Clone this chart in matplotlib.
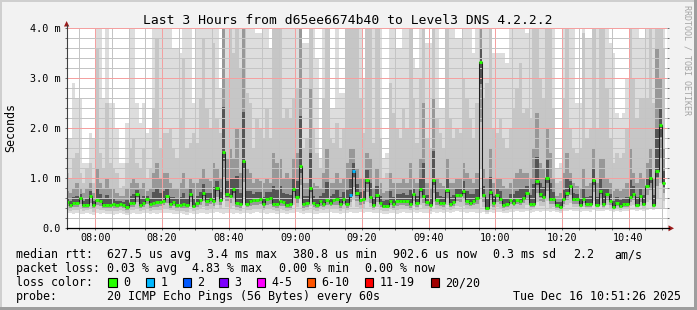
import numpy as np
import matplotlib
matplotlib.use("Agg")
import matplotlib.pyplot as plt
from matplotlib.patches import Rectangle, Polygon
from matplotlib.ticker import MultipleLocator

W, H = 697, 310
MONO = "DejaVu Sans Mono"

# time axis in minutes after 07:00, window 07:51:26 .. 10:51:26
t_start = 51 + 26 / 60
t_end = 231 + 26 / 60
first_col = 51  # first (partial) one-minute column starts 07:51

# median rtt per minute, ms
median = [0.52,
          0.46, 0.51, 0.51, 0.61, 0.46, 0.47, 0.65, 0.46, 0.57, 0.55,
          0.47, 0.47, 0.46, 0.49, 0.46, 0.49, 0.46, 0.42, 0.51, 0.51,
          0.69, 0.47, 0.51, 0.58, 0.49, 0.51, 0.53, 0.53, 0.55, 0.65,
          0.48, 0.53, 0.46, 0.46, 0.49, 0.46, 0.68, 0.45, 0.51, 0.57,
          0.71, 0.55, 0.58, 0.55, 0.81, 0.56, 1.53, 0.68, 0.64, 0.78,
          0.51, 0.49, 1.35, 0.49, 0.55, 0.57, 0.56, 0.59, 0.48, 0.58,
          0.61, 0.49, 0.48, 0.54, 0.53, 0.46, 0.48, 0.79, 0.63, 1.25,
          0.49, 0.51, 0.80, 0.51, 0.46, 0.54, 0.48, 0.56, 0.51, 0.57,
          0.58, 0.48, 0.58, 0.48, 0.66, 1.15, 0.71, 0.56, 0.59, 0.97,
          0.63, 0.47, 0.66, 0.51, 0.45, 0.45, 0.55, 0.48, 0.55, 0.55,
          0.54, 0.54, 0.48, 0.69, 0.51, 0.79, 0.65, 0.53, 0.46, 0.96,
          0.57, 0.51, 0.51, 0.77, 0.48, 0.53, 0.67, 0.66, 0.74, 0.55,
          0.51, 0.55, 0.61, 3.33, 0.66, 0.40, 0.72, 0.51, 0.66, 0.59,
          0.46, 0.49, 0.57, 0.51, 0.56, 0.54, 0.61, 0.71, 0.48, 0.49,
          0.95, 0.68, 0.63, 1.01, 0.58, 0.58, 0.46, 0.42, 0.59, 0.70,
          0.85, 0.58, 0.58, 0.47, 0.59, 0.49, 0.49, 0.96, 0.47, 0.74,
          0.49, 0.69, 0.55, 0.43, 0.51, 0.45, 0.48, 0.48, 0.63, 0.69,
          0.46, 0.64, 0.49, 0.85, 1.00, 0.47, 1.14, 2.06, 0.90]

# lost pings (of 20) per minute
lost = [0] * 85 + [1, 1] + [0] * 93

# fastest ping per minute (bottom of the smoke)
ping_min = [0.30, 0.30, 0.29, 0.31, 0.28, 0.29, 0.30, 0.28, 0.27, 0.30, 0.29,
            0.30, 0.28, 0.29, 0.27, 0.28, 0.30, 0.28, 0.26, 0.29, 0.30,
            0.28, 0.29, 0.30, 0.31, 0.29, 0.30, 0.28, 0.30, 0.31, 0.30,
            0.30, 0.29, 0.28, 0.30, 0.29, 0.27, 0.30, 0.28, 0.29, 0.31,
            0.30, 0.29, 0.31, 0.30, 0.32, 0.30, 0.28, 0.31, 0.30, 0.29,
            0.30, 0.28, 0.30, 0.31, 0.29, 0.30, 0.32, 0.31, 0.30, 0.29,
            0.31, 0.30, 0.29, 0.31, 0.30, 0.28, 0.30, 0.31, 0.32, 0.30,
            0.29, 0.31, 0.30, 0.29, 0.28, 0.30, 0.31, 0.30, 0.32, 0.31,
            0.30, 0.29, 0.31, 0.30, 0.32, 0.31, 0.30, 0.32, 0.31, 0.33,
            0.32, 0.30, 0.31, 0.30, 0.29, 0.28, 0.31, 0.30, 0.29, 0.31,
            0.32, 0.31, 0.30, 0.33, 0.31, 0.32, 0.30, 0.31, 0.29, 0.33,
            0.31, 0.32, 0.30, 0.33, 0.31, 0.32, 0.34, 0.33, 0.32, 0.31,
            0.32, 0.33, 0.31, 0.30, 0.33, 0.28, 0.32, 0.31, 0.33, 0.32,
            0.30, 0.31, 0.33, 0.32, 0.34, 0.33, 0.32, 0.34, 0.31, 0.32,
            0.34, 0.33, 0.35, 0.34, 0.33, 0.34, 0.32, 0.31, 0.34, 0.35,
            0.36, 0.35, 0.34, 0.33, 0.35, 0.34, 0.33, 0.36, 0.34, 0.35,
            0.34, 0.36, 0.35, 0.33, 0.34, 0.33, 0.34, 0.35, 0.36, 0.37,
            0.35, 0.36, 0.35, 0.37, 0.38, 0.36, 0.38, 0.40, 0.39]

# slowest ping (top of light smoke)
top_light = [1.8, 1.8, 2.9, 2.6, 2.6, 1.3, 1.3, 1.9, 1.8, 4.1,
             4.1, 2.6, 4.1, 2.5, 2.5, 2.0, 1.3, 1.3, 2.1, 4.1,
             4.1, 2.5, 2.1, 2.5, 1.9, 2.0, 4.1, 4.1, 4.1, 4.1,
             4.1,
             4.1, 3.6, 3.6, 3.5, 4.1, 4.1, 4.1, 2.5, 4.1, 4.1,
             4.1, 4.1, 4.1, 4.1, 4.1, 2.8, 4.1, 4.1, 4.1, 4.1,
             4.1, 4.1, 4.1, 4.1, 4.1, 4.1, 3.9, 3.9, 4.1, 4.1,
             3.6, 4.1, 4.1, 4.1, 4.1, 4.1, 4.1, 4.1, 4.1, 4.1,
             3.7, 3.7, 4.1, 4.1, 3.4, 1.4, 4.1, 4.1, 2.4, 2.4,
             4.1, 2.7, 2.7, 4.1, 4.1, 4.1, 4.1, 4.1, 3.0, 4.1,
             4.1, 4.1, 3.8, 4.1, 1.4, 1.5, 4.1, 4.1, 3.6, 3.6,
             4.1, 4.1, 4.1, 3.4, 3.2, 4.1, 4.1, 3.7, 3.7, 4.1,
             4.1, 2.4, 2.4, 4.1, 4.1, 4.1, 3.8, 3.8, 4.1, 4.1,
             4.1, 3.5, 4.1, 4.1, 4.1, 4.1, 4.1, 3.5, 3.5, 3.5,
             3.5, 3.3, 4.1, 4.1, 4.1, 4.1, 4.1, 3.9, 4.1, 4.1,
             4.1, 4.1, 4.1, 4.1, 4.1, 4.1, 1.2, 1.3, 4.1, 4.1,
             4.1, 4.1, 2.5, 2.5, 4.1, 3.8, 3.8, 4.1, 4.1, 4.1,
             4.1, 4.1, 3.7, 3.5, 2.3, 2.2, 2.3, 3.0, 4.1, 4.1,
             4.1, 3.8, 3.8, 4.1, 4.1, 4.1, 4.1, 4.1, 4.1]

# top of the mid grey smoke
top_mid = [1.1, 1.0, 1.4, 1.5, 1.1, 0.9, 1.2, 1.3, 0.9, 3.6,
           1.5, 1.2, 2.5, 1.3, 1.2, 1.1, 0.8, 0.85, 1.3, 1.6,
           1.8, 1.3, 1.2, 1.6, 1.0, 1.2, 2.4, 3.8, 1.6, 1.9,
           1.9,
           2.0, 1.6, 1.4, 2.2, 3.4, 1.6, 1.7, 1.9, 1.7, 2.6,
           3.8, 2.4, 2.0, 3.7, 2.2, 1.9, 4.1, 3.0, 4.1, 3.5,
           4.1, 3.2, 4.1, 2.7, 2.5, 1.6, 2.2, 2.0, 1.8, 2.4,
           1.8, 4.1, 4.1, 4.1, 2.2, 2.4, 2.2, 2.6, 2.8, 4.1,
           1.6, 1.8, 4.1, 2.0, 1.5, 1.2, 2.6, 4.1, 1.8, 1.7,
           2.1, 1.6, 2.0, 4.1, 4.1, 4.1, 4.1, 2.6, 1.9, 4.1,
           4.1, 1.7, 4.1, 1.8, 1.0, 1.1, 2.9, 2.3, 2.0, 1.8,
           2.4, 2.0, 4.1, 2.6, 1.7, 3.0, 4.1, 1.8, 1.6, 4.1,
           2.2, 1.9, 1.6, 4.1, 2.2, 1.8, 2.0, 1.9, 3.0, 2.6,
           2.2, 1.8, 2.5, 4.1, 2.6, 2.9, 4.1, 2.0, 1.9, 2.2,
           1.8, 1.6, 2.0, 2.4, 2.8, 3.3, 2.3, 2.4, 2.2, 4.1,
           4.1, 3.0, 2.6, 4.1, 4.1, 2.4, 0.9, 0.95, 2.6, 4.1,
           2.0, 1.6, 1.5, 1.6, 3.9, 1.8, 2.0, 4.1, 2.0, 4.1,
           4.1, 2.8, 1.8, 1.3, 1.5, 1.4, 1.5, 2.0, 4.1, 3.0,
           2.2, 2.6, 2.6, 2.6, 4.1, 2.5, 4.1, 4.1, 3.6]

# top of the dark smoke
top_dark = [0.75, 0.7, 0.8, 0.9, 0.8, 0.7, 0.8, 0.9, 0.7, 1.2,
            0.9, 0.8, 1.0, 0.8, 0.8, 0.7, 0.65, 0.65, 0.8, 0.9,
            1.0, 0.9, 0.8, 0.9, 0.75, 0.8, 1.1, 1.3, 1.0, 1.1,
            1.1,
            0.9, 0.8, 0.8, 0.9, 1.1, 0.8, 1.0, 0.9, 0.9, 1.0,
            1.2, 1.0, 0.95, 1.3, 1.2, 1.0, 4.1, 1.4, 1.6, 1.4,
            2.0, 1.1, 4.1, 1.2, 1.1, 0.9, 1.0, 0.95, 0.9, 1.0,
            0.9, 1.5, 1.3, 1.4, 1.0, 1.1, 1.0, 1.4, 1.5, 4.1,
            0.9, 0.9, 2.8, 0.9, 0.85, 0.8, 1.1, 1.6, 0.9, 0.9,
            1.1, 0.9, 1.0, 1.3, 1.6, 1.6, 1.2, 1.0, 1.0, 1.5,
            1.4, 0.8, 1.2, 0.9, 0.7, 0.75, 1.1, 0.9, 0.9, 0.9,
            1.0, 0.9, 1.3, 1.0, 0.9, 1.4, 2.5, 0.9, 0.8, 2.6,
            1.0, 0.9, 0.85, 1.4, 0.9, 0.9, 1.0, 1.0, 1.3, 1.1,
            1.0, 0.9, 1.1, 4.1, 1.2, 1.0, 1.6, 0.9, 1.0, 1.0,
            0.85, 0.8, 0.9, 1.0, 1.1, 1.2, 1.1, 1.1, 1.0, 1.6,
            2.3, 1.3, 1.2, 2.0, 1.5, 1.0, 0.65, 0.7, 1.1, 1.5,
            1.1, 0.9, 0.85, 0.8, 1.2, 0.85, 0.9, 1.6, 0.9, 1.4,
            1.4, 1.0, 0.9, 0.75, 0.8, 0.75, 0.8, 0.9, 1.6, 1.1,
            0.9, 1.1, 1.0, 1.3, 1.6, 1.0, 3.6, 3.0, 1.6]

loss_labels = ["0", "1", "2", "3", "4-5", "6-10", "11-19", "20/20"]
loss_colors = ["#26ff00", "#00b8ff", "#0059ff", "#7e00ff",
               "#ff00ff", "#ff5500", "#ff0000", "#a00000"]
loss_box_x = [108.3, 145.7, 182.7, 219.3, 256.7, 306.7, 365.0, 430.7]

stats_rtt = [("median rtt:", 16), ("627.5 us avg", 107.3), ("3.4 ms max", 207.3),
             ("380.8 us min", 293.3), ("902.6 us now", 393.3), ("0.3 ms sd", 493.3),
             ("2.2", 572.7), ("am/s", 614.3)]
stats_loss = [("packet loss:", 16), ("0.03 % avg", 107.3), ("4.83 % max", 191.7),
              ("0.00 % min", 279.3), ("0.00 % now", 365.0)]

x_ticks = [60, 80, 100, 120, 140, 160, 180, 200, 220]
x_labels = ["08:00", "08:20", "08:40", "09:00", "09:20", "09:40", "10:00", "10:20", "10:40"]
y_ticks = [0, 1, 2, 3, 4]
y_labels = ["0.0", "1.0 m", "2.0 m", "3.0 m", "4.0 m"]

for arr in (median, lost, ping_min, top_light, top_mid, top_dark):
    assert len(arr) == 180, len(arr)


def loss_color(n):
    if n <= 3:
        return loss_colors[n]
    if n <= 5:
        return loss_colors[4]
    if n <= 10:
        return loss_colors[5]
    if n <= 19:
        return loss_colors[6]
    return loss_colors[7]


med = np.array(median)
lo = np.array(ping_min)
t1 = np.maximum(np.array(top_light), med)
t2 = np.maximum(np.array(top_mid), med)
t3 = np.maximum(np.array(top_dark), med)
edges = first_col + np.arange(len(med) + 1)

fig = plt.figure(figsize=(W / 100, H / 100), dpi=100, facecolor="#f2f2f2")

# plot area: 600 x 200 px
ax = fig.add_axes([66.7 / W, (H - 228) / H, 600 / W, 200 / H])
ax.set_facecolor("white")
ax.set_xlim(t_start, t_end)
ax.set_ylim(0, 4)

# smoke, outer (light) bands first, inner (dark) ones on top
bands = [
    (lo, t1, "#dddddd"),
    (lo + 0.3 * (med - lo), t2, "#c6c6c6"),
    (lo + 0.6 * (med - lo), t3, "#989898"),
    (lo + 0.85 * (med - lo), med + 0.35 * (t3 - med), "#555555"),
]
for bottom, top, col in bands:
    ax.fill_between(edges, np.append(bottom, bottom[-1]), np.append(top, top[-1]),
                    step="post", color=col, linewidth=0, zorder=1)

ax.stairs(med, edges, baseline=None, color="#202020", linewidth=0.75, zorder=3)
ax.hlines(med, edges[:-1], edges[1:], colors=[loss_color(n) for n in lost],
          linewidth=2.1, zorder=4)

ax.xaxis.set_major_locator(MultipleLocator(20))
ax.xaxis.set_minor_locator(MultipleLocator(5))
ax.yaxis.set_major_locator(MultipleLocator(1))
ax.yaxis.set_minor_locator(MultipleLocator(0.2))
ax.set_axisbelow(False)
ax.grid(which="minor", color="#c4c4c4", linestyle=(0, (1, 1)), linewidth=0.72,
        antialiased=False)
ax.grid(which="major", color="#f4a0a0", linestyle=(0, (1, 1)), linewidth=0.72,
        antialiased=False)
ax.tick_params(which="both", direction="out", length=1.6, width=0.72, color="#707070",
               left=True, right=True, bottom=True, top=False,
               labelleft=False, labelbottom=False)
for s in ax.spines.values():
    s.set_visible(False)

# overlay in pixel coordinates for texts, axes and frame
ov = fig.add_axes([0, 0, 1, 1], zorder=10)
ov.set_xlim(0, W)
ov.set_ylim(H, 0)
ov.axis("off")
ov.patch.set_alpha(0)

ov.add_patch(Rectangle((0, 0), W, 2, color="#cfcfcf", lw=0))
ov.add_patch(Rectangle((0, 0), 2, H, color="#cfcfcf", lw=0))
ov.add_patch(Rectangle((0, H - 3), W, 3, color="#9e9e9e", lw=0))
ov.add_patch(Rectangle((W - 3, 0), 3, H, color="#9e9e9e", lw=0))

ov.plot([66.5, 66.5], [25, 228.5], color="#404040", lw=0.8)
ov.plot([66.5, 669], [228.3, 228.3], color="black", lw=0.9)
ov.add_patch(Polygon([(64.0, 26.5), (69.3, 26.5), (66.6, 21)], color="#9b1b1b", lw=0))
ov.add_patch(Polygon([(668.5, 225.3), (668.5, 231.3), (674, 228.3)], color="#9b1b1b", lw=0))

ov.text(347.5, 24, "Last 3 Hours from d65ee6674b40 to Level3 DNS 4.2.2.2",
        family=MONO, size=9.4, ha="center", va="baseline")
ov.text(11, 127.5, "Seconds", family=MONO, size=8.4, rotation=90, ha="center", va="center")
ov.text(687.5, 60, "RRDTOOL / TOBI OETIKER", family=MONO, size=6.0, rotation=270,
        ha="center", va="center", color="#a4a4a4")

for v, lab in zip(y_ticks, y_labels):
    ov.text(60.5, 228 - 50 * v + 1, lab, family=MONO, size=7.3, ha="right", va="center")
for m, lab in zip(x_ticks, x_labels):
    px = 66.7 + (m - t_start) * 600 / (t_end - t_start)
    ov.text(px, 241, lab, family=MONO, size=7.3, ha="center", va="baseline")

for txt, x in stats_rtt:
    ov.text(x, 258.3, txt, family=MONO, size=8.4, va="baseline")
for txt, x in stats_loss:
    ov.text(x, 272.2, txt, family=MONO, size=8.4, va="baseline")

ov.text(16, 286, "loss color:", family=MONO, size=8.4, va="baseline")
for lab, col, x in zip(loss_labels, loss_colors, loss_box_x):
    ov.add_patch(Rectangle((x, 278.3), 8.4, 8.4, facecolor=col, edgecolor="black", lw=0.8))
    ov.text(x + 14.8, 286, lab, family=MONO, size=8.4, va="baseline")

ov.text(16, 300, "probe:", family=MONO, size=8.4, va="baseline")
ov.text(107.3, 300, "20 ICMP Echo Pings (56 Bytes) every 60s", family=MONO, size=8.4, va="baseline")
ov.text(513.3, 300, "Tue Dec 16 10:51:26 2025", family=MONO, size=8.4, va="baseline")

fig.savefig("out.png", dpi=100, facecolor=fig.get_facecolor())
